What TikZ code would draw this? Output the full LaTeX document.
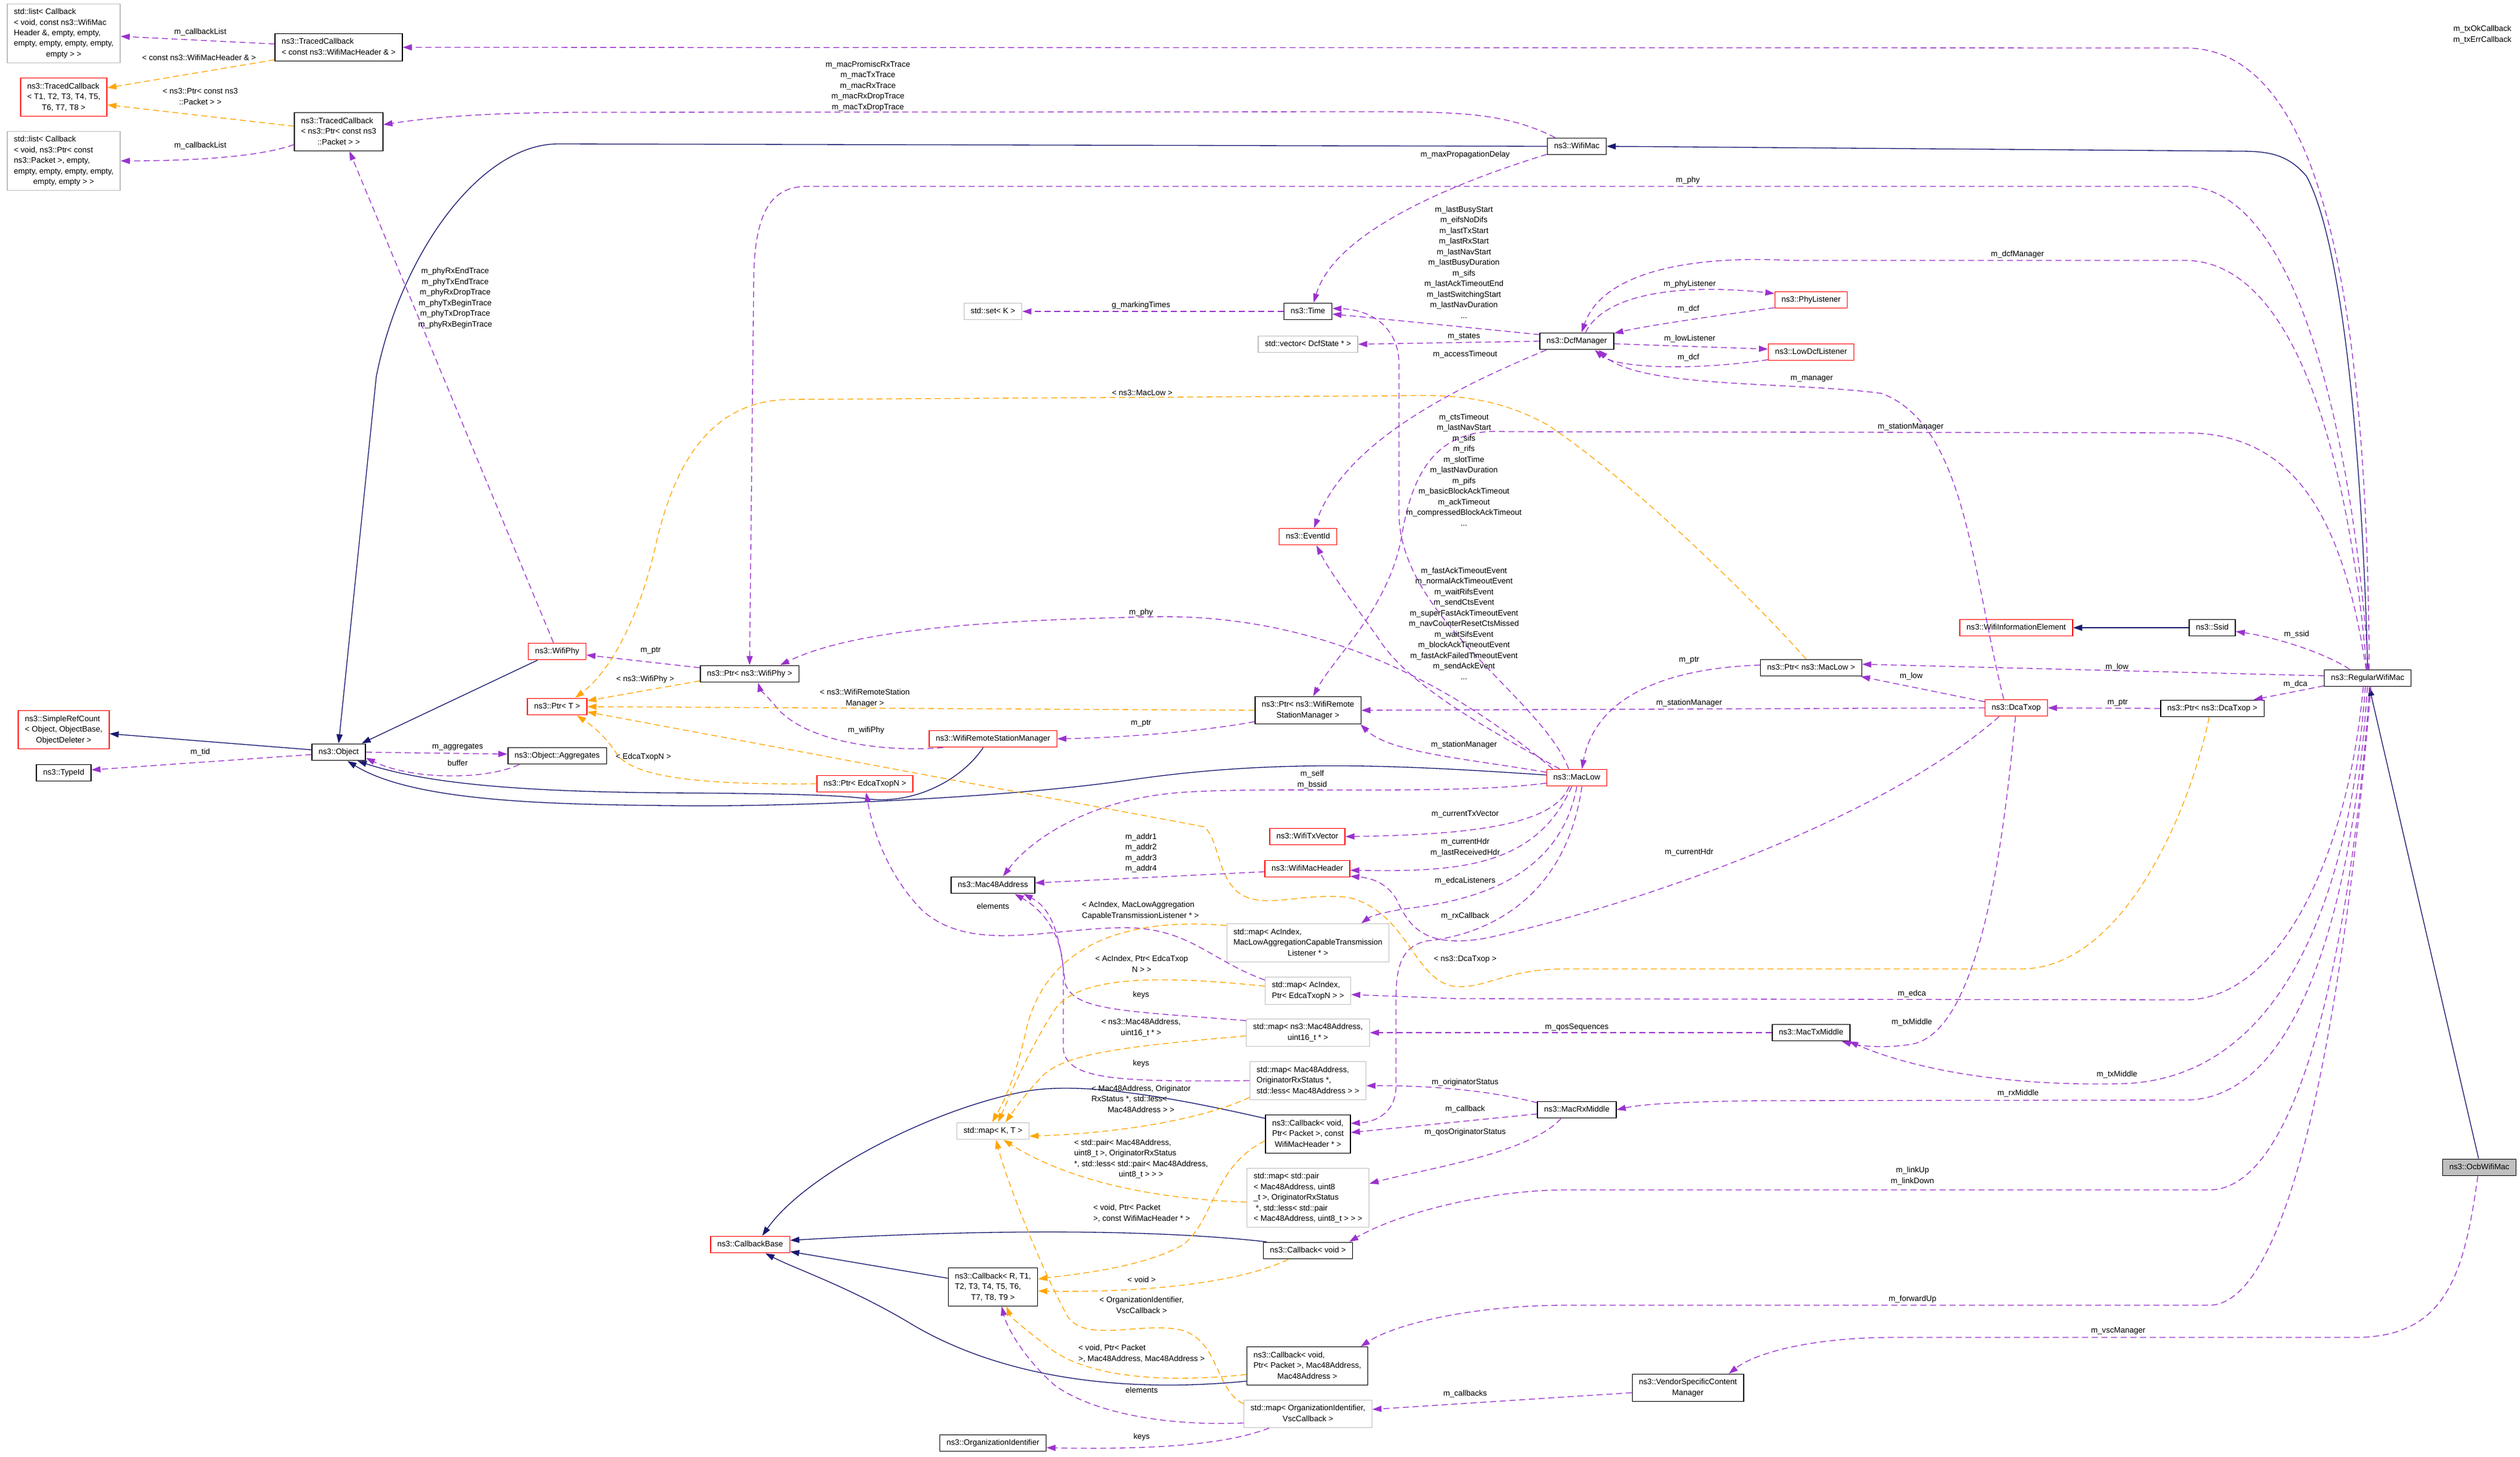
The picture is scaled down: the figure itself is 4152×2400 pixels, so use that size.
\documentclass[tikz,border=0pt]{standalone}
\usepackage{fontspec}
\setmainfont{Liberation Sans}
\usetikzlibrary{arrows.meta}
\definecolor{usecol}{HTML}{9A32CD}
\definecolor{tmplcol}{HTML}{FFA500}
\definecolor{inhcol}{HTML}{191970}
\definecolor{grey75}{HTML}{BFBFBF}
\newcommand{\dfont}{\fontsize{7.45}{9.96}\selectfont}
\newcommand{\ml}[2]{\begin{tabular}{@{}l@{}}#1\\\multicolumn{1}{@{}c@{}}{#2}\end{tabular}}
\newcommand{\one}[1]{\strut#1}
\tikzset{
    cls/.style={draw=black, line width=0.8pt, inner xsep=0.22cm, inner ysep=0.1cm, font=\dfont},
    redcls/.style={cls, draw=red},
    grycls/.style={cls, draw=grey75},
    usage/.style={draw=usecol, line width=0.75pt, dash pattern=on 0.2cm off 0.12cm, -{Triangle[length=0.3cm, width=0.2cm]}},
    tmpl/.style={usage, draw=tmplcol},
    inherit/.style={draw=inhcol, line width=0.75pt, -{Triangle[length=0.3cm, width=0.2cm]}},
    lbl/.style={font=\dfont, inner sep=0pt, align=center},
}
\begin{document}
\begin{tikzpicture}[x=0.02cm, y=-0.02cm]
    \path[use as bounding box, fill=white] (0,0) rectangle (4152,2400);
    \node[grycls] (listHdr) at (105,55) {\ml{std::list< Callback\\< void, const ns3::WifiMac\\Header \&, empty, empty,\\empty, empty, empty, empty,}{empty > >}};
    \node[cls] (tcHdr) at (558,78) {\ml{ns3::TracedCallback}{< const ns3::WifiMacHeader \& >}};
    \node[redcls] (tcTemp) at (105,160) {\ml{ns3::TracedCallback\\< T1, T2, T3, T4, T5,}{T6, T7, T8 >}};
    \node[cls] (tcPkt) at (558,217) {\ml{ns3::TracedCallback\\< ns3::Ptr< const ns3}{::Packet > >}};
    \node[grycls] (listPkt) at (105,265) {\ml{std::list< Callback\\< void, ns3::Ptr< const\\ns3::Packet >, empty,\\empty, empty, empty, empty,}{empty, empty > >}};
    \node[cls] (wifiMac) at (2598,241) {\one{ns3::WifiMac}};
    \node[cls] (time) at (2155,513) {\one{ns3::Time}};
    \node[grycls] (setK) at (1636,513) {\one{std::set< K >}};
    \node[grycls] (dcfVec) at (2155,567) {\one{std::vector< DcfState * >}};
    \node[cls] (dcfMgr) at (2598,562) {\one{ns3::DcfManager}};
    \node[redcls] (phyLst) at (2984,494) {\one{ns3::PhyListener}};
    \node[redcls] (lowLst) at (2984,580) {\one{ns3::LowDcfListener}};
    \node[redcls] (eventId) at (2155,884) {\one{ns3::EventId}};
    \node[redcls] (wifiPhy) at (918,1073) {\one{ns3::WifiPhy}};
    \node[redcls] (ptrT) at (918,1164) {\one{ns3::Ptr< T >}};
    \node[redcls] (simpleRef) at (105,1202) {\ml{ns3::SimpleRefCount\\< Object, ObjectBase,}{ObjectDeleter >}};
    \node[cls] (object) at (558,1239) {\one{ns3::Object}};
    \node[cls] (typeId) at (105,1273) {\one{ns3::TypeId}};
    \node[cls] (objAgg) at (918,1245) {\one{ns3::Object::Aggregates}};
    \node[cls] (ptrPhy) at (1235,1110) {\one{ns3::Ptr< ns3::WifiPhy >}};
    \node[cls] (ptrRsm) at (2155,1170) {\ml{ns3::Ptr< ns3::WifiRemote}{StationManager >}};
    \node[redcls] (rsm) at (1636,1217) {\one{ns3::WifiRemoteStationManager}};
    \node[redcls] (ptrEdca) at (1425,1291) {\one{ns3::Ptr< EdcaTxopN >}};
    \node[cls] (mac48) at (1636,1458) {\one{ns3::Mac48Address}};
    \node[redcls] (txVec) at (2154,1378) {\one{ns3::WifiTxVector}};
    \node[redcls] (macHdr) at (2154,1431) {\one{ns3::WifiMacHeader}};
    \node[redcls] (macLow) at (2598,1281) {\one{ns3::MacLow}};
    \node[cls] (ptrLow) at (2984,1100) {\one{ns3::Ptr< ns3::MacLow >}};
    \node[redcls] (dcaTxop) at (3322,1166) {\one{ns3::DcaTxop}};
    \node[redcls] (infoElem) at (3322,1034) {\one{ns3::WifiInformationElement}};
    \node[cls] (ssid) at (3645,1034) {\one{ns3::Ssid}};
    \node[cls] (regMac) at (3901,1117) {\one{ns3::RegularWifiMac}};
    \node[cls] (ptrDca) at (3645,1167) {\one{ns3::Ptr< ns3::DcaTxop >}};
    \node[cls, fill=grey75] (ocbMac) at (4085,1923) {\one{ns3::OcbWifiMac}};
    \node[grycls] (mapLst) at (2155,1553) {\ml{std::map< AcIndex,\\MacLowAggregationCapableTransmission}{Listener * >}};
    \node[grycls] (mapEdca) at (2155,1632) {\ml{std::map< AcIndex,}{Ptr< EdcaTxopN > >}};
    \node[grycls] (mapSeq) at (2155,1701) {\ml{std::map< ns3::Mac48Address,}{uint16\_t * >}};
    \node[grycls] (mapOrig) at (2155,1780) {\ml{std::map< Mac48Address,\\OriginatorRxStatus *,}{std::less< Mac48Address > >}};
    \node[cls] (cbHdr) at (2155,1868) {\ml{ns3::Callback< void,\\Ptr< Packet >, const}{WifiMacHeader * >}};
    \node[grycls] (mapPair) at (2155,1973) {\ml{std::map< std::pair\\< Mac48Address, uint8\\\_t >, OriginatorRxStatus\\{} *, std::less< std::pair}{< Mac48Address, uint8\_t > > >}};
    \node[grycls] (mapKT) at (1636,1863) {\one{std::map< K, T >}};
    \node[redcls] (cbBase) at (1236,2050) {\one{ns3::CallbackBase}};
    \node[cls] (cbVoid) at (2155,2060) {\one{ns3::Callback< void >}};
    \node[cls] (cbTemp) at (1636,2120) {\ml{ns3::Callback< R, T1,\\T2, T3, T4, T5, T6,}{T7, T8, T9 >}};
    \node[cls] (cbMac) at (2154,2250) {\ml{ns3::Callback< void,\\Ptr< Packet >, Mac48Address,}{Mac48Address >}};
    \node[grycls] (mapOui) at (2155,2329) {\ml{std::map< OrganizationIdentifier,}{VscCallback >}};
    \node[cls] (oui) at (1636,2377) {\one{ns3::OrganizationIdentifier}};
    \node[cls] (txMid) at (2984,1701) {\one{ns3::MacTxMiddle}};
    \node[cls] (rxMid) at (2598,1828) {\one{ns3::MacRxMiddle}};
    \node[cls] (vscMgr) at (2781,2286) {\ml{ns3::VendorSpecificContent}{Manager}};

    \draw[inherit] (wifiMac.west) -- (920,237) .. controls (790,237) and (660,420) .. (620,620) -- (object.north);
    \draw[inherit] (regMac.north) .. controls (3892,750) and (3860,400) .. (3800,290) .. controls (3770,255) and (3740,249) .. (3690,249) -- (wifiMac.east);
    \draw[inherit] (wifiPhy.204) -- (object.21);
    \draw[inherit] (object.175) -- (simpleRef.-5);
    \draw[inherit] (rsm.222) .. controls (1580,1290) and (1500,1325) .. (1430,1316) .. controls (1390,1310) and (1300,1307) .. (1100,1306) .. controls (850,1304) and (700,1290) .. (object.-25);
    \draw[inherit] (macLow.175) .. controls (2300,1260) and (2100,1250) .. (1860,1285) .. controls (1650,1315) and (1300,1330) .. (1100,1327) .. controls (900,1325) and (680,1320) .. (object.-45);
    \draw[inherit] (ssid.west) -- (infoElem.east);
    \draw[inherit] (ocbMac.95) -- (regMac.-80);
    \draw[inherit] (cbTemp.169) -- (cbBase.-10);
    \draw[inherit] (cbVoid.168) .. controls (1950,2030) and (1700,2020) .. (cbBase.6);
    \draw[inherit] (cbMac.194) .. controls (1850,2295) and (1650,2270) .. (1500,2180) .. controls (1400,2120) and (1310,2090) .. (cbBase.-30);
    \draw[inherit] (cbHdr.160) .. controls (1900,1800) and (1780,1785) .. (1700,1796) .. controls (1550,1820) and (1330,1930) .. (cbBase.36);

    \draw[usage] (tcHdr.177) -- (listHdr.-3);
    \draw[usage] (tcPkt.196) .. controls (430,258) and (320,265) .. (listPkt.east);
    \draw[usage] (regMac.80) .. controls (3900,400) and (3800,79) .. (3600,79) -- (tcHdr.east);
    \draw[usage] (regMac.84) .. controls (3875,700) and (3780,307) .. (3600,307) -- (1330,307) .. controls (1270,307) and (1245,350) .. (1242,450) -- (ptrPhy.north);
    \draw[usage] (regMac.96) .. controls (3870,750) and (3780,429) .. (3600,429) -- (2950,429) .. controls (2780,420) and (2640,450) .. (dcfMgr.62);
    \draw[usage] (regMac.100) .. controls (3860,850) and (3780,713) .. (3600,713) -- (2480,711) .. controls (2380,705) and (2330,760) .. (2310,880) .. controls (2290,1000) and (2200,1080) .. (ptrRsm.70);
    \draw[usage] (wifiMac.158) .. controls (2480,185) and (2400,184) .. (2250,184) -- (950,185) .. controls (780,186) and (700,195) .. (tcPkt.9);
    \draw[usage] (wifiPhy.113) -- (tcPkt.-61);
    \draw[usage] (wifiMac.195) .. controls (2400,300) and (2200,380) .. (time.57);
    \draw[usage] (time.west) -- (setK.east);
    \draw[usage] (dcfMgr.170) -- (time.-6);
    \draw[usage] (dcfMgr.west) -- (dcfVec.east);
    \draw[usage] (dcfMgr.196) .. controls (2420,630) and (2220,720) .. (eventId.55);
    \draw[usage] (dcfMgr.45) .. controls (2640,490) and (2750,465) .. (phyLst.170);
    \draw[usage] (phyLst.192) .. controls (2830,520) and (2720,535) .. (dcfMgr.12);
    \draw[usage] (dcfMgr.-4) -- (lowLst.176);
    \draw[usage] (lowLst.190) .. controls (2780,612) and (2660,605) .. (dcfMgr.-26);
    \draw[usage] (dcaTxop.145) .. controls (3250,950) and (3240,700) .. (3100,648) .. controls (2950,628) and (2700,640) .. (dcfMgr.-22);
    \draw[usage] (macLow.133) .. controls (2540,1150) and (2310,1020) .. (2305,850) -- (2305,600) .. controls (2305,540) and (2260,510) .. (time.7);
    \draw[usage] (macLow.153) .. controls (2450,1200) and (2320,1130) .. (2270,1050) .. controls (2220,980) and (2190,940) .. (eventId.-46);
    \draw[usage] (macLow.160) .. controls (2420,1150) and (2200,1010) .. (1900,1016) .. controls (1600,1022) and (1400,1040) .. (ptrPhy.16);
    \draw[usage] (macLow.170) .. controls (2420,1250) and (2290,1240) .. (ptrRsm.-15);
    \draw[usage] (macLow.190) .. controls (2400,1310) and (2100,1295) .. (1950,1305) .. controls (1800,1315) and (1700,1380) .. (mac48.41);
    \draw[usage] (macLow.229) .. controls (2560,1360) and (2420,1375) .. (txVec.east);
    \draw[usage] (macLow.240) .. controls (2530,1430) and (2400,1436) .. (macHdr.-2);
    \draw[usage] (macLow.south) .. controls (2570,1450) and (2420,1483) .. (2330,1495) .. controls (2290,1500) and (2260,1508) .. (mapLst.20);
    \draw[usage] (macLow.300) .. controls (2580,1480) and (2450,1540) .. (2350,1550) .. controls (2305,1560) and (2300,1600) .. (2300,1650) -- (2300,1790) .. controls (2300,1830) and (2270,1848) .. (cbHdr.14);
    \draw[usage] (ptrLow.177) .. controls (2760,1100) and (2630,1140) .. (macLow.60);
    \draw[usage] (dcaTxop.169) -- (ptrLow.-10);
    \draw[usage] (dcaTxop.west) -- (ptrRsm.east);
    \draw[usage] (dcaTxop.207) .. controls (3100,1350) and (2700,1490) .. (2450,1545) .. controls (2340,1565) and (2320,1520) .. (2300,1480) .. controls (2285,1455) and (2260,1446) .. (macHdr.-10);
    \draw[usage] (dcaTxop.265) .. controls (3300,1400) and (3260,1700) .. (3150,1720) .. controls (3100,1728) and (3060,1722) .. (txMid.-16);
    \draw[usage] (ptrDca.west) -- (dcaTxop.east);
    \draw[usage] (regMac.154) .. controls (3830,1075) and (3750,1050) .. (ssid.-9);
    \draw[usage] (regMac.177) -- (ptrLow.4);
    \draw[usage] (regMac.190) -- (ptrDca.12);
    \draw[usage] (regMac.243) .. controls (3870,1400) and (3760,1647) .. (3600,1647) -- (2400,1645) -- (mapEdca.-5);
    \draw[usage] (regMac.255) .. controls (3870,1500) and (3750,1775) .. (3500,1785) .. controls (3300,1790) and (3150,1760) .. (txMid.-13);
    \draw[usage] (regMac.268) .. controls (3880,1450) and (3800,1812) .. (3600,1812) -- (2900,1813) .. controls (2750,1815) and (2700,1820) .. (rxMid.east);
    \draw[usage] (regMac.283) .. controls (3870,1600) and (3780,1960) .. (3640,1960) -- (2580,1960) .. controls (2450,1960) and (2300,2000) .. (cbVoid.12);
    \draw[usage] (regMac.290) .. controls (3860,1700) and (3770,2150) .. (3640,2150) -- (2580,2150) .. controls (2430,2150) and (2300,2180) .. (cbMac.20);
    \draw[usage] (ocbMac.-100) .. controls (4060,2100) and (4030,2203) .. (3880,2203) -- (3120,2203) .. controls (2980,2203) and (2890,2230) .. (vscMgr.19);
    \draw[usage] (vscMgr.185) -- (mapOui.4);
    \draw[usage] (txMid.west) -- (mapSeq.east);
    \draw[usage] (rxMid.170) .. controls (2450,1795) and (2350,1788) .. (mapOrig.-5);
    \draw[usage] (rxMid.186) -- (cbHdr.2);
    \draw[usage] (rxMid.209) .. controls (2520,1900) and (2350,1925) .. (mapPair.13);
    \draw[usage] (macHdr.184) -- (mac48.3);
    \draw[usage] (ptrRsm.192) .. controls (1980,1205) and (1850,1215) .. (rsm.east);
    \draw[usage] (rsm.190) .. controls (1450,1240) and (1320,1220) .. (1276,1161) .. controls (1262,1145) and (1252,1135) .. (ptrPhy.-46);
    \draw[usage] (ptrPhy.173) -- (wifiPhy.-7);
    \draw[usage] (object.185) -- (typeId.6);
    \draw[usage] (object.east) -- (objAgg.178);
    \draw[usage] (objAgg.193) .. controls (800,1285) and (680,1285) .. (object.-12);
    \draw[usage] (mapEdca.166) .. controls (1990,1580) and (1960,1528) .. (1850,1528) .. controls (1720,1530) and (1600,1570) .. (1520,1500) .. controls (1470,1450) and (1440,1380) .. (ptrEdca.-82);
    \draw[usage] (mapSeq.169) .. controls (1850,1665) and (1770,1665) .. (1755,1620) .. controls (1748,1560) and (1740,1500) .. (mac48.-16);
    \draw[usage] (mapOrig.west) .. controls (1850,1782) and (1760,1780) .. (1752,1730) -- (1752,1600) .. controls (1750,1540) and (1720,1500) .. (mac48.-22);
    \draw[usage] (mapOui.188) .. controls (1900,2350) and (1790,2320) .. (1738,2282) .. controls (1690,2240) and (1660,2190) .. (cbTemp.-66);
    \draw[usage] (mapOui.200) .. controls (2020,2380) and (1900,2388) .. (oui.-5);

    \draw[tmpl] (tcHdr.191) -- (tcTemp.12);
    \draw[tmpl] (tcPkt.173) -- (tcTemp.-10);
    \draw[tmpl] (ptrLow.120) .. controls (2900,1000) and (2700,800) .. (2550,700) .. controls (2460,650) and (2380,650) .. (2300,652) -- (1300,658) .. controls (1200,660) and (1120,720) .. (1080,900) .. controls (1050,1030) and (1000,1110) .. (ptrT.26);
    \draw[tmpl] (ptrPhy.188) -- (ptrT.11);
    \draw[tmpl] (ptrRsm.west) -- (ptrT.east);
    \draw[tmpl] (ptrEdca.west) .. controls (1150,1293) and (1040,1280) .. (1015,1240) .. controls (995,1210) and (975,1195) .. (ptrT.-24);
    \draw[tmpl] (ptrDca.250) .. controls (3610,1330) and (3500,1596) .. (3330,1596) -- (2580,1596) .. controls (2480,1596) and (2450,1628) .. (2400,1625) .. controls (2330,1620) and (2320,1500) .. (2220,1478) .. controls (2140,1470) and (2080,1500) .. (2040,1470) .. controls (2005,1440) and (2010,1390) .. (1985,1362) -- (ptrT.-10);
    \draw[tmpl] (mapLst.168) .. controls (1850,1510) and (1720,1560) .. (1690,1700) .. controls (1670,1790) and (1645,1830) .. (mapKT.95);
    \draw[tmpl] (mapEdca.174) .. controls (1900,1605) and (1780,1610) .. (1740,1660) .. controls (1700,1720) and (1670,1790) .. (mapKT.60);
    \draw[tmpl] (mapSeq.183) .. controls (1850,1724) and (1760,1735) .. (1720,1770) .. controls (1690,1800) and (1670,1830) .. (mapKT.35);
    \draw[tmpl] (mapOrig.196) .. controls (1990,1840) and (1860,1866) .. (mapKT.-8);
    \draw[tmpl] (mapPair.184) .. controls (1900,1975) and (1760,1945) .. (mapKT.-40);
    \draw[tmpl] (mapOui.171) .. controls (2000,2290) and (2010,2200) .. (1937,2189) .. controls (1870,2180) and (1790,2210) .. (1760,2170) .. controls (1720,2100) and (1660,1950) .. (mapKT.-71);
    \draw[tmpl] (cbHdr.189) .. controls (2000,1920) and (2000,2010) .. (1950,2050) .. controls (1880,2090) and (1760,2100) .. (cbTemp.10);
    \draw[tmpl] (cbVoid.204) .. controls (2050,2110) and (1900,2130) .. (cbTemp.-5);
    \draw[tmpl] (cbMac.188) .. controls (1900,2280) and (1780,2265) .. (1722,2215) .. controls (1690,2190) and (1665,2170) .. (cbTemp.-55);

    \node[lbl] (lbHdrList) at (330,53) {m\_callbackList};
    \node[lbl] (lbHdrTmpl) at (328,95) {< const ns3::WifiMacHeader \& >};
    \node[lbl] (lbPktTmpl) at (330,160) {\ml{< ns3::Ptr< const ns3}{::Packet > >}};
    \node[lbl] (lbPktList) at (330,240) {m\_callbackList};
    \node[lbl] (lbTxCb) at (4090,57) {m\_txOkCallback\\m\_txErrCallback};
    \node[lbl] (lbMacTrace) at (1430,142) {m\_macPromiscRxTrace\\m\_macTxTrace\\m\_macRxTrace\\m\_macRxDropTrace\\m\_macTxDropTrace};
    \node[lbl] (lbPhyTrace) at (750,491) {m\_phyRxEndTrace\\m\_phyTxEndTrace\\m\_phyRxDropTrace\\m\_phyTxBeginTrace\\m\_phyTxDropTrace\\m\_phyRxBeginTrace};
    \node[lbl] (lbRegPhy) at (2781,297) {m\_phy};
    \node[lbl] (lbDelay) at (2414,255) {m\_maxPropagationDelay};
    \node[lbl] (lbMarking) at (1880,503) {g\_markingTimes};
    \node[lbl] (lbDcfTime) at (2412,432) {m\_lastBusyStart\\m\_eifsNoDifs\\m\_lastTxStart\\m\_lastRxStart\\m\_lastNavStart\\m\_lastBusyDuration\\m\_sifs\\m\_lastAckTimeoutEnd\\m\_lastSwitchingStart\\m\_lastNavDuration\\...};
    \node[lbl] (lbStates) at (2412,555) {m\_states};
    \node[lbl] (lbAccess) at (2414,584) {m\_accessTimeout};
    \node[lbl] (lbPhyLst) at (2784,468) {m\_phyListener};
    \node[lbl] (lbDcfA) at (2782,509) {m\_dcf};
    \node[lbl] (lbLowLst) at (2784,558) {m\_lowListener};
    \node[lbl] (lbDcfB) at (2782,589) {m\_dcf};
    \node[lbl] (lbManager) at (2985,624) {m\_manager};
    \node[lbl] (lbDcfMgr) at (3324,419) {m\_dcfManager};
    \node[lbl] (lbLowTmpl) at (1882,647) {< ns3::MacLow >};
    \node[lbl] (lbRegRsm) at (3148,703) {m\_stationManager};
    \node[lbl] (lbLowTime) at (2412,774) {m\_ctsTimeout\\m\_lastNavStart\\m\_sifs\\m\_rifs\\m\_slotTime\\m\_lastNavDuration\\m\_pifs\\m\_basicBlockAckTimeout\\m\_ackTimeout\\m\_compressedBlockAckTimeout\\...};
    \node[lbl] (lbLowEvent) at (2412,1027) {m\_fastAckTimeoutEvent\\m\_normalAckTimeoutEvent\\m\_waitRifsEvent\\m\_sendCtsEvent\\m\_superFastAckTimeoutEvent\\m\_navCounterResetCtsMissed\\m\_waitSifsEvent\\m\_blockAckTimeoutEvent\\m\_fastAckFailedTimeoutEvent\\m\_sendAckEvent\\...};
    \node[lbl] (lbLowPhy) at (1880,1009) {m\_phy};
    \node[lbl] (lbPhyTmpl) at (1063,1119) {< ns3::WifiPhy >};
    \node[lbl] (lbPhyPtr) at (1072,1072) {m\_ptr};
    \node[lbl] (lbRsmTmpl) at (1425,1150) {\ml{< ns3::WifiRemoteStation}{Manager >}};
    \node[lbl] (lbWifiPhy) at (1427,1203) {m\_wifiPhy};
    \node[lbl] (lbRsmPtr) at (1880,1192) {m\_ptr};
    \node[lbl] (lbEdcaTmpl) at (1060,1247) {< EdcaTxopN >};
    \node[lbl] (lbTid) at (330,1239) {m\_tid};
    \node[lbl] (lbAggr) at (754,1231) {m\_aggregates};
    \node[lbl] (lbBuffer) at (754,1257) {buffer};
    \node[lbl] (lbLowRsm) at (2412,1227) {m\_stationManager};
    \node[lbl] (lbSelf) at (2162,1284) {m\_self\\m\_bssid};
    \node[lbl] (lbTxVec) at (2414,1341) {m\_currentTxVector};
    \node[lbl] (lbLowHdr) at (2414,1396) {m\_currentHdr\\m\_lastReceivedHdr};
    \node[lbl] (lbAddr) at (1880,1405) {m\_addr1\\m\_addr2\\m\_addr3\\m\_addr4};
    \node[lbl] (lbEdcaLst) at (2414,1451) {m\_edcaListeners};
    \node[lbl] (lbRxCb) at (2414,1509) {m\_rxCallback};
    \node[lbl] (lbLowPtr) at (2783,1088) {m\_ptr};
    \node[lbl] (lbDcaLow) at (3149,1114) {m\_low};
    \node[lbl] (lbDcaRsm) at (2783,1158) {m\_stationManager};
    \node[lbl] (lbDcaPtr) at (3489,1158) {m\_ptr};
    \node[lbl] (lbRegLow) at (3488,1099) {m\_low};
    \node[lbl] (lbSsid) at (3784,1045) {m\_ssid};
    \node[lbl] (lbDca) at (3782,1127) {m\_dca};
    \node[lbl] (lbDcaHdr) at (2783,1404) {m\_currentHdr};
    \node[lbl] (lbDcaTmpl) at (2414,1580) {< ns3::DcaTxop >};
    \node[lbl] (lbEdca) at (3150,1637) {m\_edca};
    \node[lbl] (lbDcaTxMid) at (3150,1684) {m\_txMiddle};
    \node[lbl] (lbRegTxMid) at (3488,1770) {m\_txMiddle};
    \node[lbl] (lbRxMid) at (3325,1801) {m\_rxMiddle};
    \node[lbl] (lbQosSeq) at (2598,1692) {m\_qosSequences};
    \node[lbl] (lbOrigSt) at (2414,1783) {m\_originatorStatus};
    \node[lbl] (lbCallback) at (2414,1827) {m\_callback};
    \node[lbl] (lbQosOrig) at (2414,1865) {m\_qosOriginatorStatus};
    \node[lbl] (lbLink) at (3151,1937) {m\_linkUp\\m\_linkDown};
    \node[lbl] (lbFwd) at (3151,2140) {m\_forwardUp};
    \node[lbl] (lbVsc) at (3490,2192) {m\_vscManager};
    \node[lbl] (lbCbs) at (2414,2296) {m\_callbacks};
    \node[lbl] (lbLstTmpl) at (1879,1500) {\ml{< AcIndex, MacLowAggregation}{CapableTransmissionListener * >}};
    \node[lbl] (lbEdcaMap) at (1881,1589) {\ml{< AcIndex, Ptr< EdcaTxop}{N > >}};
    \node[lbl] (lbKeysA) at (1880,1639) {keys};
    \node[lbl] (lbSeqTmpl) at (1880,1693) {\ml{< ns3::Mac48Address,}{uint16\_t * >}};
    \node[lbl] (lbKeysB) at (1880,1752) {keys};
    \node[lbl] (lbOrigTmpl) at (1880,1811) {\ml{< Mac48Address, Originator\\RxStatus *, std::less<}{Mac48Address > >}};
    \node[lbl] (lbPairTmpl) at (1880,1909) {\ml{< std::pair< Mac48Address,\\uint8\_t >, OriginatorRxStatus\\{}*, std::less< std::pair< Mac48Address,}{uint8\_t > > >}};
    \node[lbl] (lbElemA) at (1636,1493) {elements};
    \node[lbl] (lbHdrCb) at (1881,1999) {\ml{< void, Ptr< Packet}{>, const WifiMacHeader * >}};
    \node[lbl] (lbVoidCb) at (1881,2108) {< void >};
    \node[lbl] (lbOuiTmpl) at (1881,2151) {\ml{< OrganizationIdentifier,}{VscCallback >}};
    \node[lbl] (lbMacCb) at (1881,2230) {\ml{< void, Ptr< Packet}{>, Mac48Address, Mac48Address >}};
    \node[lbl] (lbElemB) at (1881,2290) {elements};
    \node[lbl] (lbKeysC) at (1881,2367) {keys};
\end{tikzpicture}
\end{document}
